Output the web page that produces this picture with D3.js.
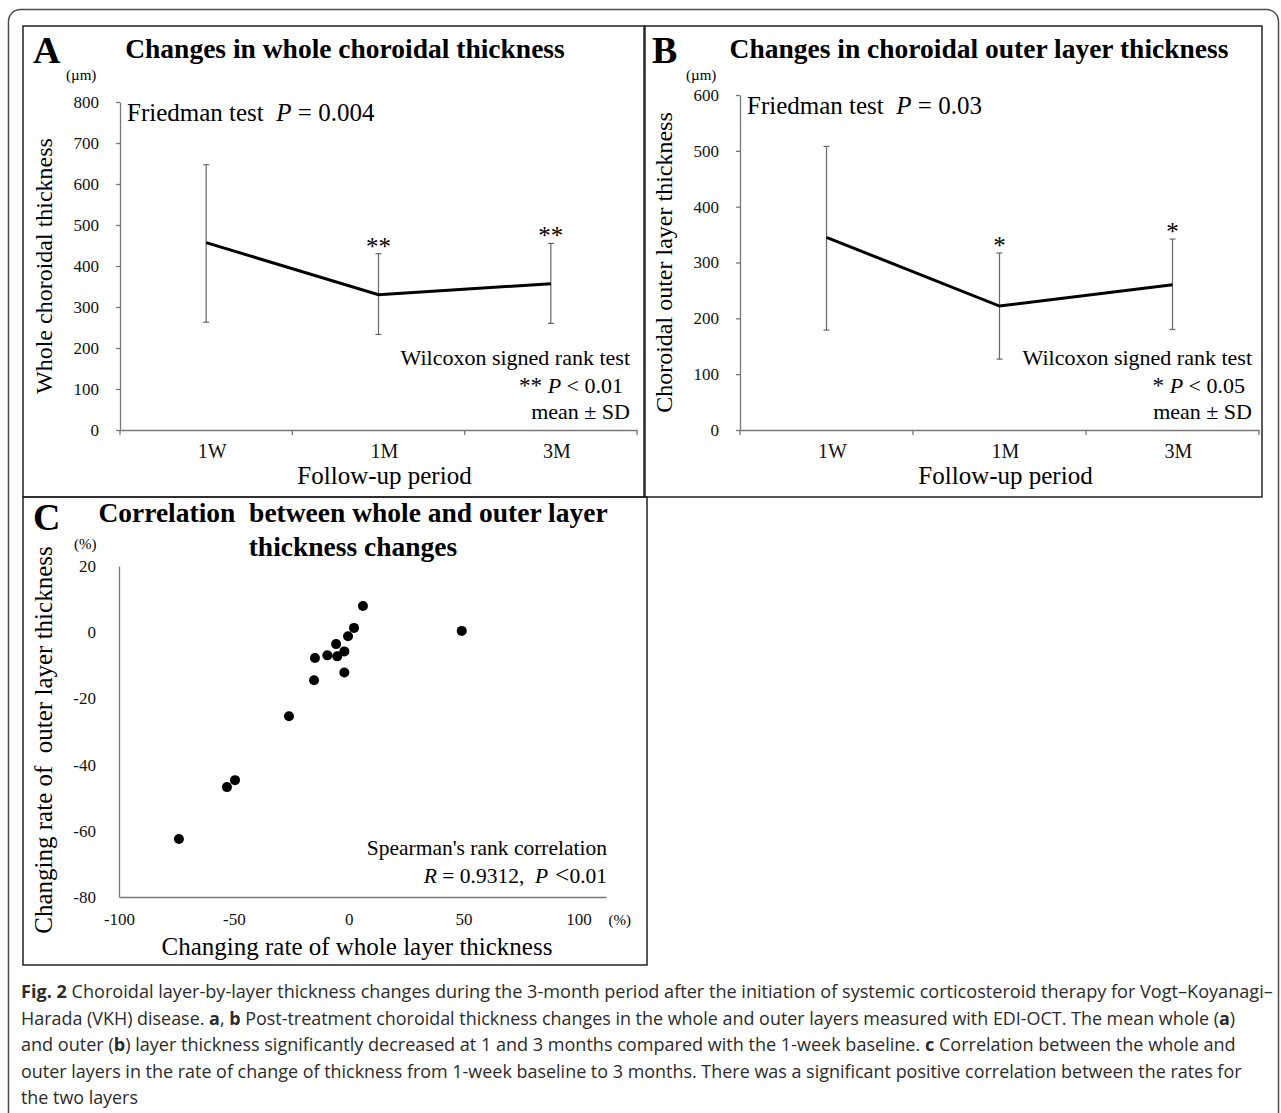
<!DOCTYPE html>
<html>
<head>
<meta charset="utf-8">
<script src="https://cdn.jsdelivr.net/npm/d3@7"></script>
<style>
    body { margin: 0; background: #fff; }
    svg { display: block; }
</style>
</head>
<body>
<div id="chart"></div>
<script>
//Datos
const periods = ['1W', '1M', '3M'];

const wholeMean = [457, 330, 357];
const wholeUpper = [647, 430, 455];
const wholeLower = [263, 233, 260];
const wholeStars = ['', '**', '**'];
const wholeTicks = [0, 100, 200, 300, 400, 500, 600, 700, 800];

const outerMean = [345, 222, 260];
const outerUpper = [508, 317, 342];
const outerLower = [179, 127, 180];
const outerStars = ['', '*', '*'];
const outerTicks = [0, 100, 200, 300, 400, 500, 600];

const rateWhole = [6.2, 2.3, -0.3, -5.5, -9.3, -5.0, -1.9, -1.9, -14.7, -15.1, -26, -49.5, -53, -73.9, 49.2];
const rateOuter = [7.9, 1.3, -1.2, -3.6, -7.0, -7.3, -5.8, -12.2, -7.8, -14.5, -25.4, -44.7, -46.8, -62.5, 0.4];
const rateTicksX = [-100, -50, 0, 50, 100];
const rateTicksY = [-80, -60, -40, -20, 0, 20];

const captionLines = [
    [['Fig. 2', true], [' Choroidal layer-by-layer thickness changes during the 3-month period after the initiation of systemic corticosteroid therapy for Vogt–Koyanagi–', false]],
    [['Harada (VKH) disease. ', false], ['a', true], [', ', false], ['b', true], [' Post-treatment choroidal thickness changes in the whole and outer layers measured with EDI-OCT. The mean whole (', false], ['a', true], [')', false]],
    [['and outer (', false], ['b', true], [') layer thickness significantly decreased at 1 and 3 months compared with the 1-week baseline. ', false], ['c', true], [' Correlation between the whole and', false]],
    [['outer layers in the rate of change of thickness from 1-week baseline to 3 months. There was a significant positive correlation between the rates for', false]],
    [['the two layers', false]]
];
const captionWidths = [1252, 1215, 1216, 1221, 117];

const SERIF = '"Liberation Serif", "Times New Roman", serif';

let svg = d3.select('#chart')
    .append('svg')
    .attr('width', 1281)
    .attr('height', 1113);

//Marco exterior
svg.append('rect')
    .attr('x', 8.5).attr('y', 9.5)
    .attr('width', 1270).attr('height', 1130)
    .attr('rx', 12)
    .attr('fill', 'none')
    .attr('stroke', '#4d4d4d')
    .attr('stroke-width', 1.5);

//Marcos de los paneles
function frame(x0, y0, x1, y1) {
    svg.append('rect')
        .attr('x', x0).attr('y', y0)
        .attr('width', x1 - x0).attr('height', y1 - y0)
        .attr('fill', 'none')
        .attr('stroke', '#222')
        .attr('stroke-width', 1.5);
}
frame(23, 26, 644, 497);
frame(645, 26, 1262, 497);
frame(23, 497, 647, 965);

function styleAxis(g, size) {
    g.select('.domain').attr('stroke', '#777').attr('stroke-width', 1.3);
    g.selectAll('.tick line').attr('stroke', '#777').attr('stroke-width', 1.3);
    g.selectAll('.tick text')
        .attr('fill', '#111')
        .style('font-family', SERIF)
        .style('font-size', size + 'px');
}

//Paneles A y B
function linePanel(o) {
    let g = svg.append('g');

    let x = d3.scaleBand().domain(periods).range([o.left, o.right]);
    let y = d3.scaleLinear().domain([0, o.ticks[o.ticks.length - 1]]).range([o.bottom, o.top]);

    let yAxis = g.append('g')
        .attr('transform', 'translate(' + o.left + ',0)')
        .call(d3.axisLeft(y).tickValues(o.ticks).tickSize(4).tickSizeOuter(0).tickPadding(17));
    styleAxis(yAxis, 17);

    let xAxis = g.append('g')
        .attr('transform', 'translate(0,' + o.bottom + ')')
        .call(d3.axisBottom(x).tickSize(0).tickSizeOuter(0).tickPadding(14));
    styleAxis(xAxis, 20);
    xAxis.selectAll('.tick text').attr('dx', 6);

    //Marcas del eje de categorías en los límites de cada banda
    g.selectAll('.cat-tick')
        .data(d3.range(periods.length + 1))
        .enter()
        .append('line')
        .attr('x1', function(i) { return o.left + i * x.step(); })
        .attr('x2', function(i) { return o.left + i * x.step(); })
        .attr('y1', o.bottom)
        .attr('y2', o.bottom + 5)
        .attr('stroke', '#777')
        .attr('stroke-width', 1.3);

    let cx = function(i) { return x(periods[i]) + x.bandwidth() / 2; };

    //Barras de error
    let err = g.selectAll('.err')
        .data(periods.map(function(p, i) { return i; }))
        .enter()
        .append('g');
    err.append('line')
        .attr('x1', cx).attr('x2', cx)
        .attr('y1', function(i) { return y(o.upper[i]); })
        .attr('y2', function(i) { return y(o.lower[i]); })
        .attr('stroke', '#666').attr('stroke-width', 1.2);
    ['upper', 'lower'].forEach(function(k) {
        err.append('line')
            .attr('x1', function(i) { return cx(i) - 3; })
            .attr('x2', function(i) { return cx(i) + 3; })
            .attr('y1', function(i) { return y(o[k][i]); })
            .attr('y2', function(i) { return y(o[k][i]); })
            .attr('stroke', '#666').attr('stroke-width', 1.2);
    });

    //Línea de medias
    g.append('path')
        .datum(o.mean)
        .attr('fill', 'none')
        .attr('stroke', '#000')
        .attr('stroke-width', 3)
        .attr('d', d3.line()
            .x(function(d, i) { return cx(i); })
            .y(function(d) { return y(d); }));

    //Asteriscos
    g.selectAll('.star')
        .data(o.stars)
        .enter()
        .append('text')
        .attr('x', function(d, i) { return cx(i); })
        .attr('y', function(d, i) { return y(o.upper[i]) + 1; })
        .attr('text-anchor', 'middle')
        .style('font-family', SERIF)
        .style('font-size', '25px')
        .text(function(d) { return d; });

    //Letra y título
    g.append('text')
        .attr('x', o.letterX).attr('y', 63)
        .style('font-family', SERIF).style('font-size', '38px').style('font-weight', 'bold')
        .text(o.letter);
    g.append('text')
        .attr('x', o.titleX).attr('y', 58)
        .attr('text-anchor', 'middle')
        .style('font-family', SERIF).style('font-size', '27.5px').style('font-weight', 'bold')
        .text(o.title);
    g.append('text')
        .attr('x', o.left - 54).attr('y', 80)
        .style('font-family', SERIF).style('font-size', '15px')
        .text('(µm)');

    //Título del eje Y
    g.append('text')
        .attr('transform', 'translate(' + o.yLabelX + ',' + ((o.top + o.bottom) / 2) + ') rotate(-90)')
        .attr('text-anchor', 'middle')
        .style('font-family', SERIF).style('font-size', '24px')
        .text(o.yLabel);

    //Título del eje X
    g.append('text')
        .attr('x', cx(1) + 6).attr('y', 484)
        .attr('text-anchor', 'middle')
        .style('font-family', SERIF).style('font-size', '25px')
        .text('Follow-up period');

    //Friedman
    let fr = g.append('text')
        .attr('x', o.left + 7).attr('y', o.top + 19)
        .attr('xml:space', 'preserve')
        .style('font-family', SERIF).style('font-size', '25px');
    fr.append('tspan').text('Friedman test  ');
    fr.append('tspan').style('font-style', 'italic').text('P');
    fr.append('tspan').text(' = ' + o.friedman);

    //Wilcoxon
    let wx = o.right - 7;
    g.append('text')
        .attr('x', wx).attr('y', 365)
        .attr('text-anchor', 'end')
        .style('font-family', SERIF).style('font-size', '22px')
        .text('Wilcoxon signed rank test');
    let pw = g.append('text')
        .attr('x', wx - 7).attr('y', 393)
        .attr('text-anchor', 'end')
        .style('font-family', SERIF).style('font-size', '22px');
    pw.append('tspan').style('font-size', '23px').text(o.starsNote + ' ');
    pw.append('tspan').style('font-style', 'italic').text('P');
    pw.append('tspan').text(' < ' + o.pNote);
    g.append('text')
        .attr('x', wx).attr('y', 419)
        .attr('text-anchor', 'end')
        .style('font-family', SERIF).style('font-size', '22px')
        .text('mean ± SD');
}

linePanel({
    left: 120, right: 637, top: 102, bottom: 430,
    ticks: wholeTicks, mean: wholeMean, upper: wholeUpper, lower: wholeLower, stars: wholeStars,
    letter: 'A', letterX: 33, title: 'Changes in whole choroidal thickness', titleX: 345,
    yLabel: 'Whole choroidal thickness', yLabelX: 52,
    friedman: '0.004', starsNote: '**', pNote: '0.01'
});

linePanel({
    left: 740, right: 1259, top: 95, bottom: 430,
    ticks: outerTicks, mean: outerMean, upper: outerUpper, lower: outerLower, stars: outerStars,
    letter: 'B', letterX: 652, title: 'Changes in choroidal outer layer thickness', titleX: 979,
    yLabel: 'Choroidal outer layer thickness', yLabelX: 672,
    friedman: '0.03', starsNote: '*', pNote: '0.05'
});

//Panel C
(function() {
    let g = svg.append('g');
    let left = 119, right = 606, top = 566, bottom = 897;

    let x = d3.scaleLinear().domain([-100, 112]).range([left, right]);
    let y = d3.scaleLinear().domain([-80, 20]).range([bottom, top]);
    let plain = function(d) { return String(d); };

    let yAxis = g.append('g')
        .attr('transform', 'translate(' + left + ',0)')
        .call(d3.axisLeft(y).tickValues(rateTicksY).tickFormat(plain).tickSize(0).tickSizeOuter(0).tickPadding(23));
    styleAxis(yAxis, 17);

    let xAxis = g.append('g')
        .attr('transform', 'translate(0,' + bottom + ')')
        .call(d3.axisBottom(x).tickValues(rateTicksX).tickFormat(plain).tickSize(0).tickSizeOuter(0).tickPadding(16));
    styleAxis(xAxis, 17);

    g.selectAll('.dot')
        .data(rateWhole)
        .enter()
        .append('circle')
        .attr('cx', function(d) { return x(d); })
        .attr('cy', function(d, i) { return y(rateOuter[i]); })
        .attr('r', 5)
        .attr('fill', '#000');

    g.append('text')
        .attr('x', 33).attr('y', 530)
        .style('font-family', SERIF).style('font-size', '38px').style('font-weight', 'bold')
        .text('C');
    g.append('text')
        .attr('x', 353).attr('y', 522)
        .attr('text-anchor', 'middle')
        .attr('xml:space', 'preserve')
        .style('font-family', SERIF).style('font-size', '27.5px').style('font-weight', 'bold')
        .text('Correlation  between whole and outer layer');
    g.append('text')
        .attr('x', 353).attr('y', 556)
        .attr('text-anchor', 'middle')
        .style('font-family', SERIF).style('font-size', '27.5px').style('font-weight', 'bold')
        .text('thickness changes');
    g.append('text')
        .attr('x', 74).attr('y', 549)
        .style('font-family', SERIF).style('font-size', '15px')
        .text('(%)');
    g.append('text')
        .attr('x', x(100) + 30).attr('y', 925)
        .style('font-family', SERIF).style('font-size', '15px')
        .text('(%)');

    g.append('text')
        .attr('transform', 'translate(52,740) rotate(-90)')
        .attr('text-anchor', 'middle')
        .attr('xml:space', 'preserve')
        .style('font-family', SERIF).style('font-size', '25px')
        .text('Changing rate of  outer layer thickness');
    g.append('text')
        .attr('x', 357).attr('y', 955)
        .attr('text-anchor', 'middle')
        .style('font-family', SERIF).style('font-size', '25px')
        .text('Changing rate of whole layer thickness');

    g.append('text')
        .attr('x', 607).attr('y', 855)
        .attr('text-anchor', 'end')
        .style('font-family', SERIF).style('font-size', '21.5px')
        .text("Spearman's rank correlation");
    let r = g.append('text')
        .attr('x', 607).attr('y', 883)
        .attr('text-anchor', 'end')
        .attr('xml:space', 'preserve')
        .style('font-family', SERIF).style('font-size', '21.5px');
    r.append('tspan').style('font-style', 'italic').text('R');
    r.append('tspan').text(' = 0.9312,  ');
    r.append('tspan').style('font-style', 'italic').text('P');
    r.append('tspan').style('font-size', '26px').text(' <');
    r.append('tspan').text('0.01');
})();

//Pie de figura (se estrecha cada línea con scale para imitar la fuente condensada)
captionLines.forEach(function(line, i) {
    let row = svg.append('g');
    let t = row.append('text')
        .attr('x', 0)
        .attr('y', 0)
        .attr('xml:space', 'preserve')
        .attr('fill', '#2b2b2b')
        .style('font-family', '"Open Sans", sans-serif')
        .style('font-size', '18.5px');
    line.forEach(function(seg) {
        t.append('tspan')
            .style('font-weight', seg[1] ? 'bold' : 'normal')
            .text(seg[0]);
    });
    let natural = t.node().getComputedTextLength();
    let sx = Math.min(1, captionWidths[i] / natural);
    row.attr('transform', 'translate(21,' + (998 + i * 26.5) + ') scale(' + sx + ',1)');
});
</script>
</body>
</html>
